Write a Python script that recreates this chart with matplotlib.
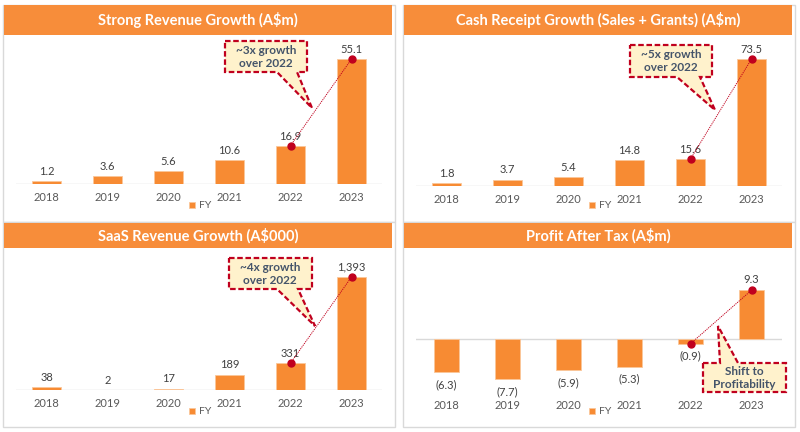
import matplotlib
matplotlib.use("Agg")
import matplotlib.pyplot as plt
from matplotlib.patches import Rectangle, Polygon
from matplotlib.transforms import Affine2D

plt.rcParams['font.family'] = ['Lato', 'DejaVu Sans']

# ---- data ----
years = ["2018", "2019", "2020", "2021", "2022", "2023"]
revenue = [1.2, 3.6, 5.6, 10.6, 16.9, 55.1]
cash_receipts = [1.8, 3.7, 5.4, 14.8, 15.6, 73.5]
saas_revenue = [38, 2, 17, 189, 331, 1393]
profit_after_tax = [-6.3, -7.7, -5.9, -5.3, -0.9, 9.3]

titles = ["Strong Revenue Growth (A\\$m)",
          "Cash Receipt Growth (Sales + Grants) (A\\$m)",
          "SaaS Revenue Growth (A\\$000)",
          "Profit After Tax (A\\$m)"]
callouts = ["~3x growth\nover 2022", "~5x growth\nover 2022",
            "~4x growth\nover 2022", "Shift to\nProfitability"]
legend_label = "FY"

ORANGE = "#F78B33"
BAND = "#F78D3A"
FRAME = "#D9D9D9"
RED = "#C0001E"
BOXFILL = "#FFF2CC"
TEXT = "#44546A"

W, H = 800, 432
fig = plt.figure(figsize=(W / 100, H / 100), dpi=100)
fig.patch.set_facecolor("white")
# pixel coordinates, origin top-left
pix = Affine2D().scale(1 / W, -1 / H).translate(0, 1) + fig.transFigure


def fig_box(left, top, right, bottom):
    return [left / W, 1 - bottom / H, (right - left) / W, (bottom - top) / H]


def label_fmt(v, thousands=False, parens=False):
    if parens and v < 0:
        return "(%.1f)" % abs(v)
    if thousands:
        return "{:,}".format(v)
    return "%.1f" % v


# panel frame, title band, axes box, ylim, bar width, legend pos, callout polygon, text pos
panels = [
    dict(frame=(3, 5, 395, 222), band=(4, 5, 392, 35), ax=(16, 40, 382, 184),
         ylim=(0, 63.5), width=0.49, legend=(200, 206), data=revenue,
         box=[(225, 41), (307, 41), (307, 72), (297, 72), (312, 108), (277, 72), (225, 72)],
         text=(266, 57)),
    dict(frame=(403, 5, 795, 222), band=(404, 5, 792, 35), ax=(416, 40, 782, 186),
         ylim=(0, 84.5), width=0.49, legend=(600, 206), data=cash_receipts,
         box=[(630, 45), (712, 45), (712, 77), (700, 77), (715, 110), (677, 77), (630, 77)],
         text=(671, 61)),
    dict(frame=(3, 222, 395, 427), band=(4, 223, 392, 248), ax=(16, 255, 382, 390),
         ylim=(0, 1664), width=0.49, legend=(200, 412), data=saas_revenue,
         box=[(229, 258), (312, 258), (312, 289), (298, 289), (315, 326), (277, 289), (229, 289)],
         text=(270, 274)),
    dict(frame=(403, 222, 795, 427), band=(404, 223, 792, 248), ax=(416, 255, 782, 395),
         ylim=(-10.67, 16.0), width=0.40, legend=(600, 412), data=profit_after_tax,
         box=[(703, 363), (720, 363), (718, 326), (738, 363), (786, 363), (786, 392), (703, 392)],
         text=(744.5, 378)),
]

for i, p in enumerate(panels):
    l, t, r, b = p["frame"]
    fig.patches.append(Rectangle((l, t), r - l, b - t, transform=pix, facecolor="white",
                                 edgecolor=FRAME, lw=1.0, zorder=0))
    l, t, r, b = p["band"]
    fig.patches.append(Rectangle((l, t), r - l, b - t, transform=pix, facecolor=BAND,
                                 edgecolor="none", zorder=1))
    fig.text((l + r) / 2 / W, 1 - (t + b) / 2 / H, titles[i], color="white", fontsize=10.5,
             fontweight="bold", ha="center", va="center")

    ax = fig.add_axes(fig_box(*p["ax"]))
    ax.set_zorder(2)
    ax.set_facecolor("none")
    vals = p["data"]
    x = list(range(len(years)))
    bars = ax.bar(x, vals, width=p["width"], color=ORANGE, edgecolor="#FBC79A", lw=0.6,
                  label=legend_label, zorder=2)
    labels = [label_fmt(v, thousands=(i == 2), parens=(i == 3)) for v in vals]
    if i == 3:
        pos = [k for k, v in enumerate(vals) if v >= 0]
        neg = [k for k, v in enumerate(vals) if v < 0]
        for k in pos:
            ax.annotate(labels[k], (x[k], vals[k]), xytext=(0, 4), textcoords="offset points",
                        ha="center", va="bottom", fontsize=8, color="#404040")
        for k in neg:
            ax.annotate(labels[k], (x[k], vals[k]), xytext=(0, -5), textcoords="offset points",
                        ha="center", va="top", fontsize=8, color="#404040")
    else:
        ax.bar_label(bars, labels=labels, padding=3, fontsize=8, color="#404040")

    ax.set_xlim(-0.5, len(years) - 0.5)
    ax.set_ylim(*p["ylim"])
    ax.axhline(0, color=FRAME, lw=1.0, zorder=1)
    for s in ax.spines.values():
        s.set_visible(False)
    ax.set_yticks([])
    ax.set_xticks(x)
    ax.set_xticklabels(years, fontsize=8, color="#595959")
    ax.tick_params(axis="x", length=0, pad=5.5 if i < 3 else 3.5)

    # growth connector between 2022 and 2023
    ax.plot(x[-2:], vals[-2:], color=RED, lw=0.7, ls=(0, (1.2, 1.0)), marker="o",
            markersize=5, markerfacecolor=RED, markeredgecolor=RED, zorder=4)

    ax.legend(loc="center", bbox_to_anchor=(p["legend"][0] / W, 1 - p["legend"][1] / H),
              bbox_transform=fig.transFigure, frameon=False, fontsize=7.5,
              handlelength=0.6, handleheight=0.6, handletextpad=0.4, labelcolor="#595959")

    fig.patches.append(Polygon(p["box"], closed=True, transform=pix, facecolor=BOXFILL,
                               edgecolor=RED, lw=1.6, ls=(0, (2.5, 1.2)), joinstyle="miter",
                               zorder=5))
    fig.text(p["text"][0] / W, 1 - p["text"][1] / H, callouts[i], color=TEXT, fontsize=8.5,
             fontweight="bold", ha="center", va="center", linespacing=1.15, zorder=6)

fig.savefig("out.png", dpi=100, facecolor="white")
